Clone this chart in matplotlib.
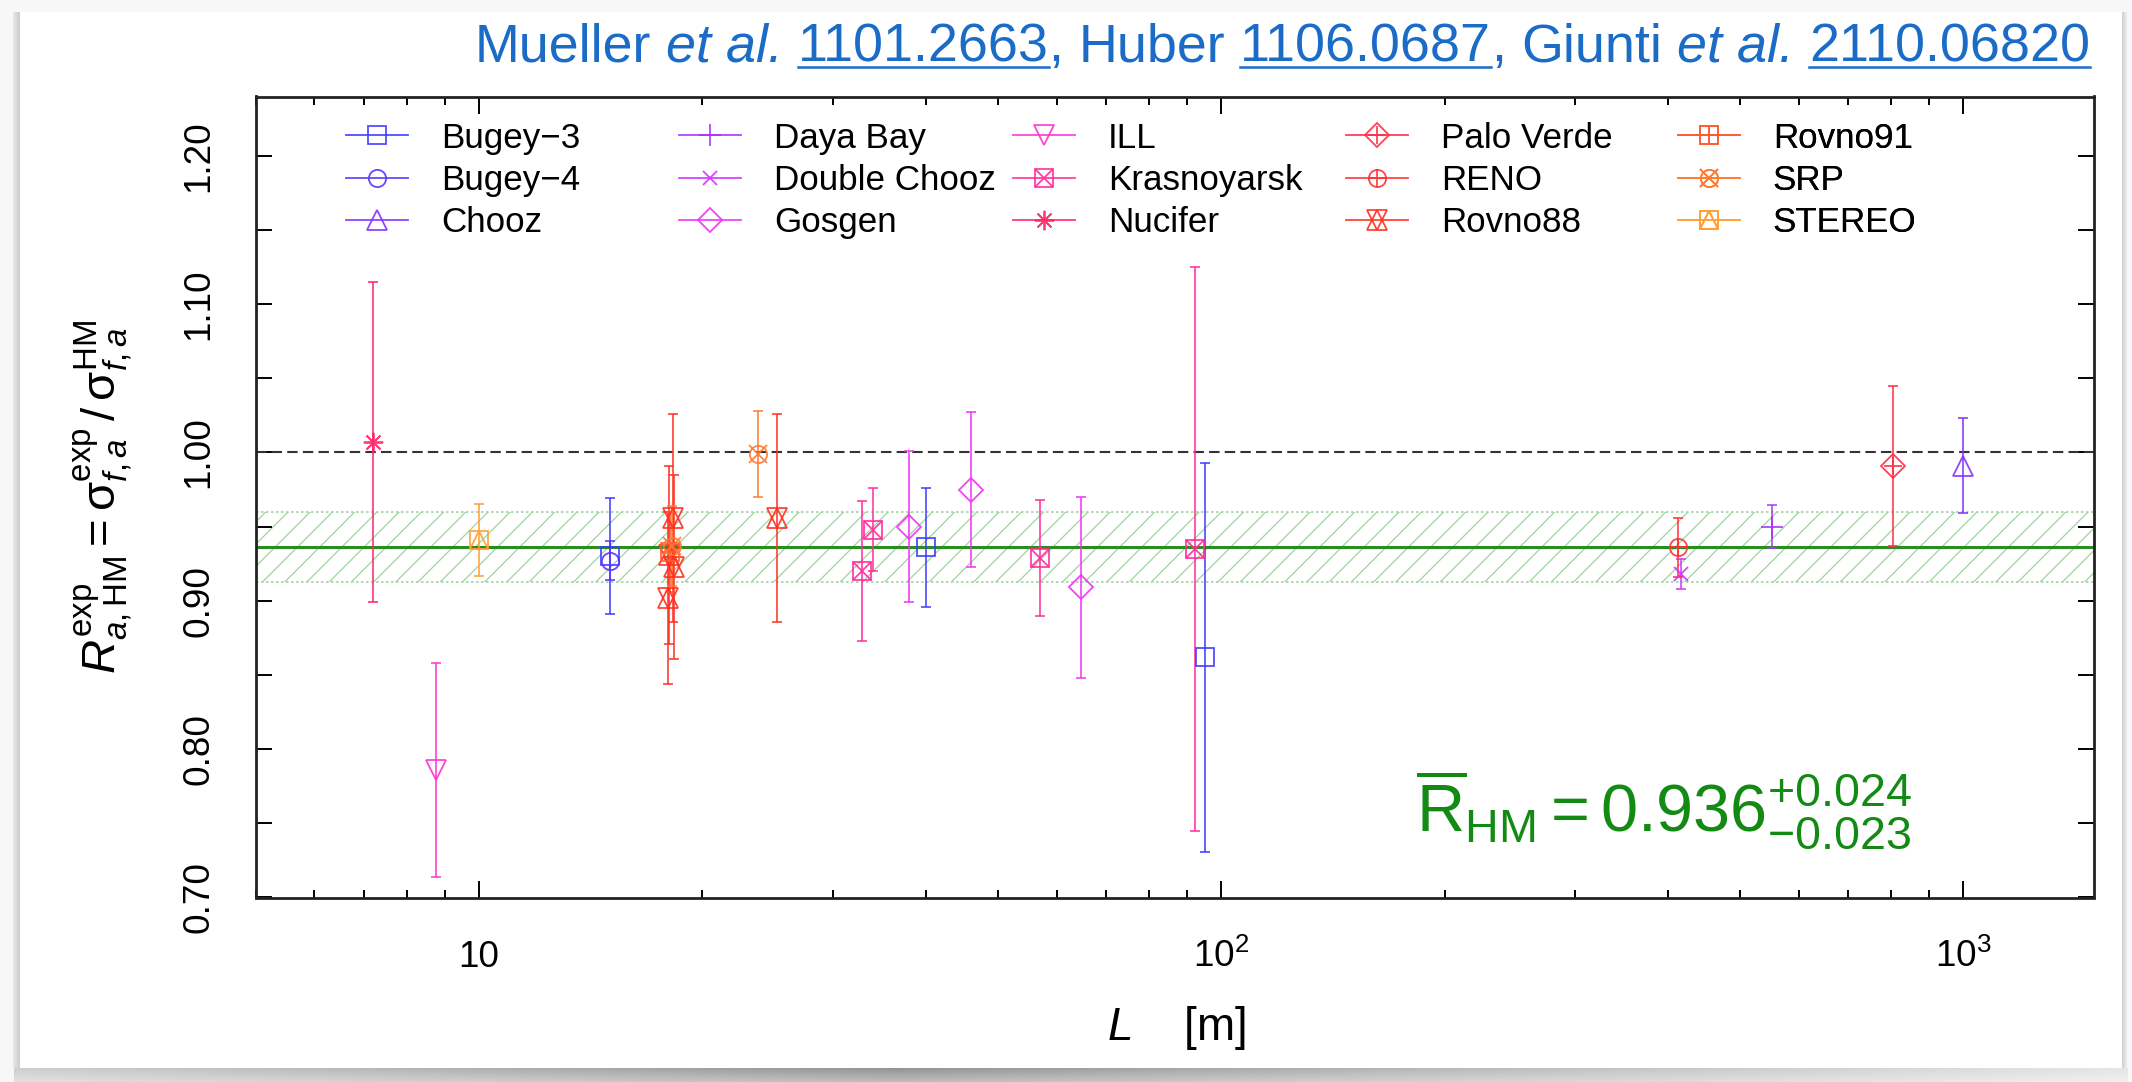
import matplotlib
matplotlib.use("Agg")
import matplotlib.pyplot as plt
import numpy as np
from matplotlib.lines import Line2D
from matplotlib.ticker import LogLocator, NullFormatter

plt.rcParams["font.family"] = ["Liberation Sans", "DejaVu Sans"]
plt.rcParams["mathtext.fontset"] = "custom"
plt.rcParams["mathtext.rm"] = "Liberation Sans"
plt.rcParams["mathtext.it"] = "Liberation Sans:italic"
plt.rcParams["mathtext.bf"] = "Liberation Sans:bold"
plt.rcParams["hatch.linewidth"] = 0.45

# experiments, in legend order (column-major, 3 rows x 5 columns)
experiments = ["Bugey\u22123", "Bugey\u22124", "Chooz", "Daya Bay", "Double Chooz",
               "Gosgen", "ILL", "Krasnoyarsk", "Nucifer", "Palo Verde",
               "RENO", "Rovno88", "Rovno91", "SRP", "STEREO"]

# one entry per measurement: experiment index, baseline L [m], ratio, error
point_exp = [0, 0, 0, 1, 2, 3, 4, 5, 5, 5, 6, 7, 7, 7, 7, 8, 9, 10,
             11, 11, 11, 11, 11, 12, 13, 13, 14]
point_L = [15.0, 40.0, 95.0, 15.0, 1000.0, 553.0, 417.0, 38.0, 46.0, 64.7,
           8.76, 32.8, 34.0, 57.0, 92.3, 7.2, 805.0, 413.0,
           18.25, 18.05, 18.3, 18.0, 25.2, 18.1, 18.2, 23.8, 10.0]
point_R = [0.930, 0.936, 0.862, 0.927, 0.991, 0.950, 0.918, 0.950, 0.975, 0.909,
           0.786, 0.920, 0.948, 0.929, 0.935, 1.007, 0.991, 0.936,
           0.956, 0.931, 0.923, 0.902, 0.956, 0.933, 0.937, 0.999, 0.941]
point_err = [0.039, 0.040, 0.131, 0.013, 0.032, 0.0145, 0.010, 0.051, 0.052, 0.061,
             0.072, 0.047, 0.028, 0.039, 0.190, 0.108, 0.054, 0.020,
             0.070, 0.060, 0.062, 0.058, 0.070, 0.027, 0.027, 0.029, 0.024]

# average ratio and its asymmetric uncertainty
R_mean, R_up, R_down = 0.936, 0.024, 0.023

y_ticks = [0.70, 0.80, 0.90, 1.00, 1.10, 1.20]
decade_ticks = [10, 100, 1000]
decade_labels = ["10", r"$10^{2}$", r"$10^{3}$"]

exp_colors = ["#3c3cff", "#5a32ff", "#8232ff", "#aa32ff", "#d232ff",
              "#f032f5", "#ff32d2", "#ff2c9c", "#ff2466", "#ff2c46",
              "#ff3232", "#ff3020", "#ff5a30", "#ff7a30", "#ffa030"]
exp_markers = ["s", "o", "^", "+", "x", "D", "v", "s", (8, 2, 0), "D",
               "o", "^", "s", "o", "s"]
exp_overlays = [None, None, None, None, None, None, None, "x", None, "+",
                "+", "v", "+", "x", "^"]
marker_size = {"s": 6.2, "o": 6.2, "^": 7.2, "v": 7.2, "+": 8.0, "x": 4.8,
               "D": 6.0, (8, 2, 0): 7.0}
overlay_size = {"x": 6.2, "+": 6.2, "v": 7.2, "^": 6.2}

W, H, DPI = 2132, 1082, 200
fig = plt.figure(figsize=(W / DPI, H / DPI), dpi=DPI)


def fx(x):
    return x / W


def fy(y):
    return 1 - y / H


# card with a soft drop shadow behind the plot
bg = np.full((H, W), 0.965)
bg[12:1068, 20:2122] = 1.0
xs = np.linspace(0, 1, W)
shade = 0.58 + 0.32 * np.clip(np.abs(xs - 0.42) / 0.58, 0, 1)
for i, row in enumerate(range(1068, H)):
    bg[row, 14:2128] = shade[14:2128] + (1 - shade[14:2128]) * 0.4 * i / (H - 1068)
bg[12:1068, 13:20] = np.linspace(0.9, 0.8, 7)
bg[12:1068, 2122:2127] = np.linspace(0.82, 0.92, 5)
bg_ax = fig.add_axes([0, 0, 1, 1], zorder=0)
bg_ax.imshow(bg, cmap="gray", vmin=0, vmax=1, aspect="auto", interpolation="bilinear")
bg_ax.axis("off")

ax = fig.add_axes([fx(255.6), fy(897.5), (2094 - 255.6) / W, (897.5 - 96.5) / H], zorder=1)
ax.set_xscale("log")
ax.set_xlim(5, 1500)
ax.set_ylim(0.70, 1.24)

for sp in ax.spines.values():
    sp.set_linewidth(1.0)
    sp.set_color("#222222")

ax.set_xticks(decade_ticks)
ax.xaxis.set_minor_locator(LogLocator(base=10, subs=np.arange(2, 10)))
ax.xaxis.set_minor_formatter(NullFormatter())
ax.tick_params(axis="x", which="major", length=6, width=0.7, direction="in",
               top=True, labelbottom=False)
ax.tick_params(axis="x", which="minor", length=3, width=0.7, direction="in", top=True)
for val, lab in zip(decade_ticks, decade_labels):
    ax.text(val, -0.087, lab, transform=ax.get_xaxis_transform(), ha="center",
            va="baseline", fontsize=13.3)

ax.set_yticks(y_ticks)
ax.set_yticks(np.array(y_ticks[:-1]) + 0.05, minor=True)
ax.set_yticklabels([f"{v:.2f}" for v in y_ticks], rotation=90, va="center")
ax.tick_params(axis="y", which="both", length=5.6, width=0.7, direction="in",
               right=True, labelsize=13.3, pad=14)

# average with its uncertainty band
ax.axhspan(R_mean - R_down, R_mean + R_up, facecolor="none", edgecolor="#9fd49f",
           hatch="///", lw=0, zorder=1)
for yb in (R_mean - R_down, R_mean + R_up):
    ax.axhline(yb, color="#9fd49f", ls=(0, (1.5, 1.5)), lw=0.6, zorder=1)
ax.axhline(R_mean, color="#2b8c22", lw=1.1, zorder=2)
ax.axhline(1.0, color="#333333", ls=(0, (5, 2.5)), lw=0.75, zorder=2)

point_exp = np.array(point_exp)
point_L = np.array(point_L)
point_R = np.array(point_R)
point_err = np.array(point_err)

handles = []
for k, name in enumerate(experiments):
    sel = point_exp == k
    c = exp_colors[k]
    m = exp_markers[k]
    ov = exp_overlays[k]
    ax.errorbar(point_L[sel], point_R[sel], yerr=point_err[sel], fmt="none",
                ecolor=c, elinewidth=0.65, capsize=1.8, capthick=0.65, alpha=0.85, zorder=3)
    ax.plot(point_L[sel], point_R[sel], ls="none", marker=m, ms=marker_size[m],
            mfc="none", mec=c, mew=0.65, alpha=0.9, zorder=4)
    h = Line2D([], [], color=c, lw=0.65, marker=m, ms=marker_size[m], mfc="none",
               mec=c, mew=0.65, alpha=0.9)
    if ov is not None:
        ax.plot(point_L[sel], point_R[sel], ls="none", marker=ov, ms=overlay_size[ov],
                mfc="none", mec=c, mew=0.65, alpha=0.9, zorder=4)
        h = (h, Line2D([], [], ls="none", marker=ov, ms=overlay_size[ov],
                       mfc="none", mec=c, mew=0.65, alpha=0.9))
    handles.append(h)

# five legend columns of equal width
col_x = [346, 679, 1013, 1346, 1678]
for j, x0 in enumerate(col_x):
    leg = ax.legend(handles[3 * j:3 * j + 3], experiments[3 * j:3 * j + 3],
                    loc="center left", bbox_to_anchor=(fx(x0), fy(180.3)),
                    bbox_transform=fig.transFigure, frameon=False, fontsize=12.6,
                    handlelength=1.77, handletextpad=0.94, labelspacing=0.26,
                    borderpad=0, borderaxespad=0)
    ax.add_artist(leg)

ax.text(0.631, 0.082,
        rf"$\overline{{\mathrm{{R}}}}_{{\mathrm{{HM}}}} = {R_mean:.3f}^{{+{R_up:.3f}}}_{{-{R_down:.3f}}}$",
        transform=ax.transAxes, color="#138a13", fontsize=24, ha="left", va="baseline",
        zorder=5)

fig.text(fx(104), fy(497),
         r"$R^{\mathrm{exp}}_{a,\mathrm{HM}} = \mathrm{\sigma}^{\mathrm{exp}}_{f,a}\,/\,\mathrm{\sigma}^{\mathrm{HM}}_{f,a}$",
         rotation=90, ha="center", va="center", fontsize=17)
fig.text(fx(1176), fy(1028), r"$L$    [m]", ha="center", va="center", fontsize=16.5)

# reference line on top, with underlined arXiv numbers
title_color = "#1a6cc6"
title_size = 19.4
pieces = [("Mueller", "normal", False, True), ("et al.", "italic", False, True),
          ("1101.2663", "normal", True, False), (",", "normal", False, True),
          ("Huber", "normal", False, True), ("1106.0687", "normal", True, False),
          (",", "normal", False, True), ("Giunti", "normal", False, True),
          ("et al.", "italic", False, True), ("2110.06820", "normal", True, False)]
renderer = fig.canvas.get_renderer()
space_px = 0.278 * title_size * DPI / 72
texts, widths = [], []
for s, style, _, _ in pieces:
    t = fig.text(0, fy(61.5), s, fontsize=title_size, color=title_color,
                 fontstyle=style, ha="left", va="baseline")
    texts.append(t)
    widths.append(t.get_window_extent(renderer).width)
total = sum(widths) + space_px * sum(1 for p in pieces[:-1] if p[3])
x = 2090 - total
for t, w, (s, style, underline, space_after) in zip(texts, widths, pieces):
    t.set_x(fx(x))
    if underline:
        fig.add_artist(Line2D([fx(x), fx(x + w)], [fy(67), fy(67)], color=title_color,
                              lw=0.9, transform=fig.transFigure))
    x += w + (space_px if space_after else 0)

fig.savefig("out.png", dpi=DPI)
